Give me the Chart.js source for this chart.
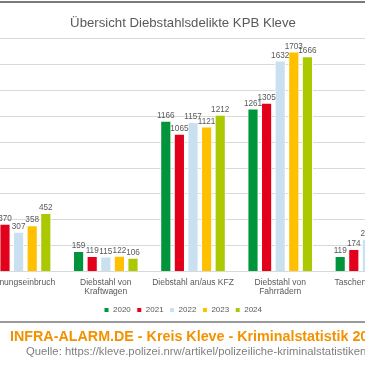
<!DOCTYPE html>
<html>
<head>
<meta charset="utf-8">
<script src="https://cdn.jsdelivr.net/npm/chart.js@4.4.1/dist/chart.umd.min.js"></script>
<style>
  html, body { margin: 0; padding: 0; background: #fff; }
  body { width: 365px; height: 365px; overflow: hidden; position: relative; font-family: "Liberation Sans", Arial, sans-serif; }
  #topline { position: absolute; left: 0; top: 1px; width: 365px; height: 2px; background: #7a7a7a; }
  #box { position: absolute; left: -45px; top: 3px; width: 456px; height: 321px; }
  #midline { position: absolute; left: 0; top: 321px; width: 365px; height: 2px; background: #9a9a9a; }
  #head { position: absolute; left: 10px; top: 328px; white-space: nowrap; color: #f39200; font-weight: bold; font-size: 14.3px; }
  #src { position: absolute; left: 26px; top: 345px; white-space: nowrap; color: #7f7f7f; font-size: 11.3px; }
</style>
</head>
<body>
<div id="topline"></div>
<div id="box"><canvas id="diebChart" width="456" height="321"></canvas></div>
<div id="midline"></div>
<div id="head">INFRA-ALARM.DE - Kreis Kleve - Kriminalstatistik 2024</div>
<div id="src">Quelle: https://kleve.polizei.nrw/artikel/polizeiliche-kriminalstatistiken</div>

<script>
// Kategorien (links und rechts im Bild abgeschnitten)
var labels = ['Wohnungseinbruch', ['Diebstahl von', 'Kraftwagen'], 'Diebstahl an/aus KFZ', ['Diebstahl von', 'Fahrrädern'], 'Taschendiebstahl'];

// Werte je Jahr (null = im Bild nicht sichtbar)
var data2020 = [null, 159, 1166, 1261, 119];
var data2021 = [370, 119, 1065, 1305, 174];
var data2022 = [307, 115, 1157, 1632, 253];
var data2023 = [358, 122, 1121, 1703, null];
var data2024 = [452, 106, 1212, 1666, null];

var years = ['2020', '2021', '2022', '2023', '2024'];
var colors = ['#00953b', '#e2001a', '#c9e0f0', '#ffc000', '#abc800'];

var yTicks = { min: 0, max: 1800, step: 200 };

var FONT = '"Liberation Sans", Arial, sans-serif';
var GREY = '#595959';

// Werte ueber die Balken schreiben
var valueLabels = {
	id: 'valueLabels',
	afterDatasetsDraw: function(chart) {
		var ctx = chart.ctx;
		ctx.save();
		ctx.font = '8.2px ' + FONT;
		ctx.fillStyle = GREY;
		ctx.textAlign = 'center';
		ctx.textBaseline = 'bottom';
		chart.data.datasets.forEach(function(ds, i) {
			var meta = chart.getDatasetMeta(i);
			meta.data.forEach(function(bar, j) {
				var v = ds.data[j];
				if (v === null || v === undefined) return;
				ctx.fillText(v, bar.x, bar.y - 1);
			});
		});
		ctx.restore();
	}
};

function drawChart(ctx) {
	var allData = [data2020, data2021, data2022, data2023, data2024];
	var datasets = [];
	allData.forEach(function(d, i) {
		datasets.push({
			label: years[i],
			data: d,
			backgroundColor: colors[i],
			borderColor: '#ffffff',
			borderWidth: 1,
			categoryPercentage: 0.78,
			barPercentage: 0.82
		});
	});

	return new Chart(ctx, {
		type: 'bar',
		data: { labels: labels, datasets: datasets },
		plugins: [valueLabels],
		options: {
			responsive: false,
			animation: false,
			devicePixelRatio: 1,
			layout: { padding: { left: 0, right: 0, top: 0, bottom: 0 } },
			plugins: {
				title: {
					display: true,
					text: 'Übersicht Diebstahlsdelikte KPB Kleve',
					color: GREY,
					font: { family: FONT, size: 13.2, weight: 'normal' },
					padding: { top: 12, bottom: 8 }
				},
				legend: {
					position: 'bottom',
					labels: {
						boxWidth: 5,
						boxHeight: 5,
						padding: 6,
						color: GREY,
						font: { family: FONT, size: 8 }
					}
				},
				tooltip: { enabled: false }
			},
			scales: {
				x: {
					grid: { display: false, drawTicks: false },
					border: { color: '#d9d9d9' },
					ticks: { color: GREY, font: { family: FONT, size: 8.5, lineHeight: 1.15 }, maxRotation: 0, autoSkip: false, padding: 6 },
					afterFit: function(scale) { scale.height -= 3; }
				},
				y: {
					min: yTicks.min,
					max: yTicks.max,
					ticks: { display: false, stepSize: yTicks.step },
					grid: { color: '#d9d9d9', drawTicks: false },
					border: { display: false },
					afterFit: function(scale) { scale.width = 20; }
				}
			}
		}
	});
}

drawChart(document.getElementById('diebChart'));
</script>
</body>
</html>
